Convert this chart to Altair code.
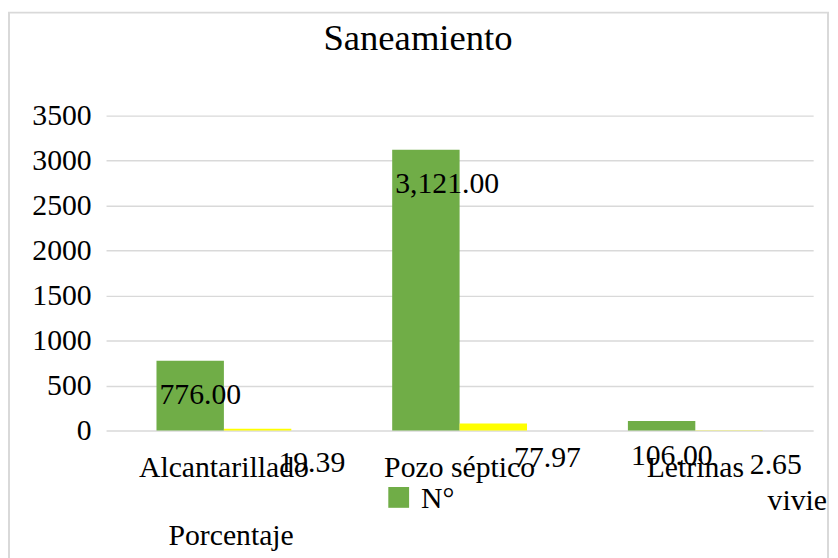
import altair as alt
import pandas as pd

categories = ["Alcantarillado", "Pozo séptico", "Letrinas"]
n_values = [776, 3121, 106]
pct_values = [19.39, 77.97, 2.65]
series = ["N°", "Porcentaje"]
colors = ["#70AD47", "#FFFF00"]
y_ticks = [0, 500, 1000, 1500, 2000, 2500, 3000, 3500]

rows = []
for c, n, p in zip(categories, n_values, pct_values):
    rows.append({"categoria": c, "serie": series[0], "valor": n})
    rows.append({"categoria": c, "serie": series[1], "valor": p})
df = pd.DataFrame(rows)

FONT = "Times New Roman, Liberation Serif, DejaVu Serif, serif"

base = alt.Chart(df).transform_calculate(
    label="format(datum.valor, ',.2f')"
)

x_enc = alt.X(
    "categoria:N",
    sort=categories,
    scale=alt.Scale(paddingInner=0.428, paddingOuter=0.214),
    axis=alt.Axis(
        title=None, labelAngle=0, labelFontSize=30, labelFont=FONT,
        labelColor="#000000", labelPadding=22, ticks=False, domain=False,
        grid=False,
    ),
)
xoff = alt.XOffset("serie:N", sort=series,
                   scale=alt.Scale(paddingInner=0, paddingOuter=0))
y_enc = alt.Y(
    "valor:Q",
    scale=alt.Scale(domain=[0, 3500], nice=False),
    axis=alt.Axis(
        title=None, values=y_ticks, format="d", labelFontSize=30, labelFont=FONT,
        labelColor="#000000", labelPadding=15, ticks=False, domain=False,
        grid=True, gridColor="#d9d9d9", gridWidth=1.5,
    ),
)

bars = base.mark_bar().encode(
    x=x_enc, xOffset=xoff, y=y_enc,
    color=alt.Color("serie:N", sort=series,
                    scale=alt.Scale(domain=series, range=colors), legend=None),
)

lab_n = base.transform_filter(alt.datum.serie == series[0]).mark_text(
    align="left", baseline="alphabetic", dx=-31, dy=44,
    font=FONT, fontSize=30, color="#000000",
).encode(x=alt.X("categoria:N", sort=categories), xOffset=xoff,
         y=alt.Y("valor:Q"), text="label:N")

lab_p = base.transform_filter(alt.datum.serie == series[1]).mark_text(
    align="left", baseline="alphabetic", dx=21, dy=44,
    font=FONT, fontSize=30, color="#000000",
).encode(x=alt.X("categoria:N", sort=categories), xOffset=xoff,
         y=alt.Y("valor:Q"), text="label:N")

one = pd.DataFrame({"k": [0]})

border = alt.Chart(one).mark_rect(
    fillOpacity=0, stroke="#d9d9d9", strokeWidth=2
).encode(x=alt.value(-98), x2=alt.value(729), y=alt.value(-104), y2=alt.value(470))

title = alt.Chart(one).mark_text(
    align="center", baseline="alphabetic", font=FONT, fontSize=37, color="#000000"
).encode(x=alt.value(315), y=alt.value(-66), text=alt.value("Saneamiento"))

swatch = alt.Chart(one).mark_rect(color=colors[0]).encode(
    x=alt.value(285), x2=alt.value(306), y=alt.value(375), y2=alt.value(396)
)


def txt(s, x, y):
    return alt.Chart(one).mark_text(
        align="left", baseline="alphabetic", font=FONT, fontSize=30, color="#000000"
    ).encode(x=alt.value(x), y=alt.value(y), text=alt.value(s))


leg1 = txt("N°", 318, 396)
leg2 = txt("vivie", 668, 398)
leg3 = txt("Porcentaje", 63, 434)

chart = alt.layer(
    border, bars, lab_n, lab_p, title, swatch, leg1, leg2, leg3
).properties(
    width=714, height=318,
    autosize=alt.AutoSizeParams(type="none"),
    padding={"left": 99, "top": 106, "right": 17, "bottom": 126},
).configure_view(stroke=None).resolve_scale(x="shared")

chart.save("out.html", embed_options={"renderer": "svg", "actions": False})
